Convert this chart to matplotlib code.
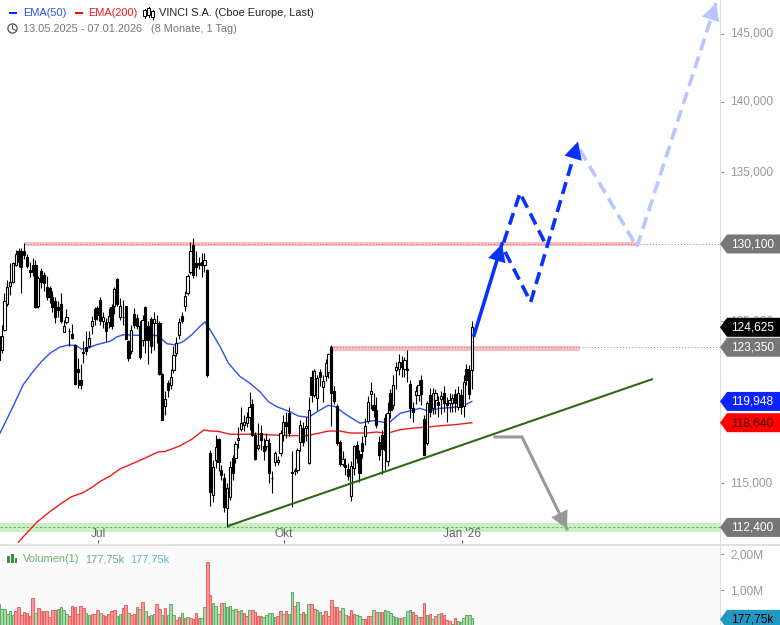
#coding=utf-8

import matplotlib
matplotlib.use('Agg')
import matplotlib.pyplot as plt
from matplotlib.patches import Polygon, Circle, Rectangle
from matplotlib.lines import Line2D
from matplotlib.ticker import FixedLocator, FuncFormatter, NullLocator
from matplotlib.transforms import Affine2D

plt.rcParams['font.family'] = ['Liberation Sans', 'DejaVu Sans']

# candles: open, high, low, close
opens = [124.05,123.15,124.47,126.1,127.3,127.6,128.7,129.66,129.6,129.6,129.25,128.37,128.7,128.7,125.97,128.32,128.03,127.23,127.16,126.62,
126.3,125.93,126.14,124.3,124.95,124.4,124.22,123.51,122.0,121.3,123.05,123.36,123.4,124.68,125.8,125.86,126.4,125.0,124.95,124.95,
125.93,126.0,127.75,125.28,125.3,126.0,123.73,123.08,125.5,125.2,124.73,123.83,125.93,124.68,125.15,124.9,124.92,124.9,121.67,119.66,
121.1,121.0,121.93,123.0,124.1,125.37,126.0,126.88,128.26,130.03,128.85,128.85,128.92,128.7,128.37,116.77,114.3,116.38,117.63,115.78,
115.29,113.52,114.2,116.48,116.48,117.56,118.25,118.51,118.65,119.01,119.79,117.91,117.09,118.01,117.23,117.23,117.39,115.32,116.23,116.23,
116.79,117.91,118.71,119.25,115.65,115.7,115.8,117.49,118.31,118.33,116.19,121.49,120.34,120.14,121.76,120.86,121.53,121.8,123.37,120.59,
119.67,117.49,116.15,116.09,115.83,114.22,115.89,117.29,116.75,117.39,117.85,118.77,120.4,119.73,119.45,117.49,117.91,118.91,116.29,120.49,
119.73,121.9,121.95,122.42,122.0,121.95,121.03,119.52,120.34,120.34,121.28,118.85,117.39,120.34,119.52,120.03,119.89,120.07,120.49,119.87,
119.83,119.83,120.4,119.63,120.34,119.67,122.0,121.9,121.9]
highs = [124.3,124.8,126.85,127.71,128.8,128.9,129.7,129.8,129.8,130.15,129.45,128.9,129.15,129.0,128.0,128.5,128.25,127.95,127.3,126.95,
126.6,126.3,126.85,125.1,125.8,124.57,124.85,123.55,122.65,122.3,123.73,124.36,124.36,125.37,125.93,126.0,126.6,125.6,125.2,125.86,
126.1,127.25,127.85,126.5,126.4,126.0,123.8,124.75,125.9,125.5,125.0,125.4,126.0,125.0,125.3,125.6,125.4,125.0,121.7,120.6,
121.3,122.0,123.4,124.0,125.2,125.6,127.0,128.1,130.2,130.5,129.6,129.2,129.5,129.5,128.4,117.01,116.4,117.89,117.7,116.1,
115.6,115.0,116.3,116.7,117.5,118.4,119.58,119.11,119.3,120.55,120.1,118.1,118.61,118.51,117.7,118.0,117.7,115.7,116.9,116.6,
118.2,119.1,119.3,119.6,116.89,115.9,117.1,118.8,118.7,119.0,120.24,121.9,122.0,121.6,122.0,121.6,122.6,123.0,123.5,120.9,
119.8,117.6,116.9,116.5,116.2,116.3,117.3,117.5,117.0,117.8,118.9,120.3,121.18,120.5,120.2,117.8,118.2,119.2,119.9,120.7,
121.6,122.4,122.9,122.8,122.75,123.16,121.3,119.9,120.9,121.3,121.6,119.1,120.0,120.8,120.8,120.7,120.3,120.6,120.9,120.2,
120.5,120.4,120.7,120.9,120.7,121.6,122.3,122.2,125.0]
lows = [122.5,123.0,124.37,126.0,126.73,127.5,128.6,128.55,126.85,129.1,128.5,127.9,128.0,125.9,125.9,127.2,126.95,126.4,126.2,125.6,
124.93,125.28,124.9,124.3,124.85,123.4,123.9,121.0,120.8,120.73,122.34,122.87,123.3,124.2,124.8,125.1,124.8,124.6,123.76,124.6,
124.5,125.5,126.0,125.1,124.8,123.85,122.45,122.9,124.6,124.5,122.6,123.4,123.0,122.3,123.0,123.2,123.6,121.6,118.8,119.1,
120.2,120.7,121.7,122.8,123.9,124.9,125.7,126.7,128.1,127.85,128.0,128.4,127.9,128.2,121.5,113.62,113.9,115.9,115.7,115.2,
113.3,112.45,114.0,115.2,116.2,117.1,118.11,118.11,118.4,118.21,117.8,116.4,117.0,117.0,116.4,117.0,115.0,114.42,116.0,116.1,
116.6,117.5,117.7,117.8,113.6,115.5,115.6,116.9,117.2,117.5,116.15,119.9,120.2,119.4,120.9,119.9,121.2,121.4,118.41,119.8,
117.3,116.0,116.0,115.5,115.2,113.93,115.5,116.2,115.04,116.5,117.29,118.6,119.5,119.0,118.3,116.4,115.55,115.8,116.0,118.9,
119.5,120.7,121.6,121.5,121.5,121.18,118.9,118.7,119.8,120.0,119.7,116.65,117.3,119.0,119.2,119.2,119.0,119.2,119.3,118.7,
119.3,119.3,119.3,119.4,119.2,119.0,121.0,120.1,120.7]
closes = [122.55,124.08,126.3,127.27,127.6,128.81,129.42,128.92,128.55,129.37,128.63,128.2,128.26,125.93,127.82,127.6,127.5,126.62,126.62,125.93,
125.28,125.71,125.06,124.73,125.28,124.36,123.92,121.05,121.76,121.0,123.0,123.08,123.94,125.0,125.15,125.43,125.0,125.28,124.36,125.33,
124.73,127.1,126.14,126.0,125.28,123.87,122.66,124.43,124.8,124.73,122.76,125.12,123.8,123.83,123.4,125.15,124.88,121.67,118.8,120.07,
120.68,121.5,122.87,123.65,124.94,125.0,126.66,127.97,129.6,128.04,128.59,128.7,128.7,129.03,121.6,114.5,115.98,117.14,116.28,115.49,
113.58,114.7,115.98,115.59,117.34,117.69,118.65,118.71,119.0,119.63,117.91,116.43,117.29,117.61,116.95,117.59,115.6,115.28,116.79,116.39,
118.01,118.71,118.41,118.01,115.6,115.8,117.0,118.51,117.49,118.41,119.45,120.34,121.87,121.38,121.49,121.24,122.32,122.9,120.45,119.99,
117.43,116.15,116.43,115.95,115.45,115.99,117.23,116.49,115.6,116.95,118.45,119.93,120.6,119.45,118.51,116.69,117.03,117.0,119.21,119.42,
120.97,122.07,122.42,122.11,122.56,121.9,119.52,119.31,120.61,120.97,120.4,116.69,119.83,119.31,120.49,120.49,119.73,120.28,119.83,119.73,
120.03,120.14,119.83,120.49,119.63,121.18,121.28,120.4,124.625]

volumes = [.60,.46,.46,.33,.41,.30,.41,.51,.30,.39,.35,.27,.77,.35,.49,.41,.41,.41,.23,.44,
.44,.47,.51,.44,.33,.27,.55,.51,.33,.55,.49,.36,.30,.33,.33,.44,.35,.30,.27,.33,
.42,.44,.27,.33,.49,.58,.36,.30,.33,.51,.47,.65,.41,.27,.30,.33,.61,.47,.30,.49,
.30,.60,.30,.16,.25,.35,.21,.25,.21,.18,.35,.22,.21,.51,1.79,.85,.63,.55,.33,.63,
.63,.53,.55,.44,.46,.42,
.44,.35,.27,.44,.44,.37,.27,.27,.23,.30,.35,.35,.23,.27,.41,.33,.41,.33,.93,.55,
.65,.33,.37,.33,.60,.60,.46,.43,.37,.30,.41,.27,.71,.51,.51,.41,.49,.30,.27,.43,
.33,.30,.27,.18,.18,.27,.27,.43,.37,.37,.37,.43,.41,.35,.27,.23,.21,.21,.23,.41,
.43,.37,.30,.23,.23,.63,.30,.33,.19,.27,.33,.35,.30,.16,.13,.04,.21,.13,.09,.21,
.30,.30,.21]
vol_side = ("ggggggrrrr" "rrrgrrrrrr" "rgggg" "rrrrr" "rgg" "rrrgrrr" "rrggrrgrrr" "grgrggrrgr"
            "ggg" "rrgrgrr" "rrgg" "rr" "gggr" "ggg"
            "ggrgrrgrrr" "rgggggrrgr" "ggrggrggrr" "ggrrrrrrrg" "grrrgggrrr" "grgrggggg" "g" "r" "gggrr" "grrgrgrgrr" "rrgr")

ema50_x = [0.4,2.8,5.1,8.7,12.2,15.2,18.2,21.7,24.7,27.4,29.4,31.4,34.7,39.5,41.8,44.2,48.9,52.5,56.6,59.6,62.5,65.5,68.5,71.4,73.2,75,78.5,81.5,85.6,
89.2,92.7,95.7,98.6,103.4,106.3,109.9,113.4,117,119.3,123.5,128.2,132.9,138.3,142.4,147.1,149.5,152.5,156.6,161.3,164.9,167.9]
ema50_y = [118.0,118.84,119.66,121.0,121.83,122.45,122.98,123.36,123.49,123.46,123.23,123.29,123.51,123.73,124.0,124.15,124.11,124.13,124.09,123.58,123.5,123.72,124.15,124.69,124.97,124.47,123.4,122.34,121.5,
121.07,120.55,119.93,119.63,119.31,119.05,118.97,119.36,119.71,119.63,119.11,118.61,118.77,118.61,119.21,119.42,119.52,119.36,119.52,119.58,119.67,119.948]
ema200_x = [6.9,9.9,13.4,18.2,22.3,25.9,30,33.5,35.9,39.5,43,47.7,52.5,56.6,59,64.3,68.5,72.8,75,77.9,82.1,85.6,
91.5,97.4,103.4,109.3,112.8,117,121.1,124.7,130.6,134.1,137.7,142.4,147.1,151.9,156.6,162.5,167.9]
ema200_y = [111.55,112.07,112.69,113.33,113.82,114.2,114.44,114.8,115.09,115.42,115.84,116.18,116.54,116.87,116.89,117.23,117.63,118.2,118.13,118.11,117.93,117.93,
117.95,117.89,117.85,117.85,117.97,118.13,118.13,118.01,118.01,118.07,117.99,118.21,118.31,118.37,118.45,118.53,118.64]

# drawings on the chart: index position / price
trend_x = [81.3, 232.2]
trend_y = [112.48, 121.35]
solid_x = [168.7, 178.6]
solid_y = [124.13, 130.1]
dash1_x = [179.7, 188.8, 205.6]
dash1_y = [129.57, 126.26, 137.16]
dash2_x = [179.2, 185.0, 194.6]
dash2_y = [130.2, 133.57, 129.9]
light_x = [206.3, 226.5, 254.6]
light_y = [136.57, 129.9, 147.33]
grey_x = [176.1, 185.7, 201.7]
grey_y = [117.77, 117.77, 112.31]

xtick_pos = [35.2, 101.2, 164.4]
xtick_labels = ['Jul', 'Okt', "Jan '26"]
price_ticks = [115, 125, 135, 140, 145]
vol_ticks = [1, 2]

W, H = 780, 625
fig = plt.figure(figsize=(W/100, H/100), dpi=100, facecolor='white')
px = Affine2D().scale(1/W, -1/H).translate(0, 1) + fig.transFigure

ax = fig.add_axes([0, (H-543)/H, 720/W, 543/H])
vax = fig.add_axes([0, 0, 720/W, (H-546)/H], facecolor='#fafafa')
x0, x1 = 0.41, 256.0

ax.set_yscale('log')
ax.set_xlim(x0, x1)
ax.set_ylim(111.5, 147.55)
ax.yaxis.set_major_locator(FixedLocator(price_ticks))
ax.yaxis.set_minor_locator(NullLocator())
ax.yaxis.set_major_formatter(FuncFormatter(lambda v, p: '%d,000' % v))
ax.yaxis.tick_right()
ax.tick_params(axis='y', which='major', length=3, width=0.8, color='#999999', labelcolor='#999999', labelsize=8.6, pad=4.5)
ax.set_xticks(xtick_pos)
ax.set_xticklabels(xtick_labels)
ax.tick_params(axis='x', direction='in', length=2.5, width=0.8, color='#555555', labelcolor='#666666', labelsize=8.6, pad=-10.6)
for s in ['top', 'left', 'bottom']:
    ax.spines[s].set_visible(False)
ax.spines['right'].set_color('#dddddd')
for t in ax.get_yticklabels():
    t.set_va('center')

# zones
ax.fill_between([8.9, 226.5], 129.97, 130.2, color='#ffbcbc', lw=0, zorder=1)
ax.fill_between([117.6, 206.3], 123.08, 123.43, color='#ffbcbc', lw=0, zorder=1)
ax.fill_between([x0, x1], 112.15, 112.64, color='#c9efc5', lw=0, zorder=1)
ax.plot([8.9, x1], [130.1, 130.1], color='#888888', lw=0.7, ls=(0, (1, 2.2)), zorder=1.5)
ax.plot([117.6, x1], [123.35, 123.35], color='#888888', lw=0.7, ls=(0, (1, 2.2)), zorder=1.5)
ax.plot([x0, x1], [112.4, 112.4], color='#6fae6f', lw=0.7, ls=(0, (2.5, 2)), zorder=1.5)

ax.plot(ema50_x, ema50_y, color='#2a50f0', lw=1.0, zorder=2)
ax.plot(ema200_x, ema200_y, color='#f01a1a', lw=1.0, zorder=2)

# candles
xs = list(range(len(closes)))
ax.vlines(xs, lows, highs, color='black', lw=0.8, zorder=3)
bottoms = [min(o, c) for o, c in zip(opens, closes)]
heights = [abs(o-c) for o, c in zip(opens, closes)]
colors = ['white' if c > o else 'black' for o, c in zip(opens, closes)]
ax.bar(xs, heights, bottom=bottoms, width=0.78, color=colors, edgecolor='black', lw=0.8, zorder=3.5)

# arrows
def head(xa, ya, col):
    ax.annotate('', xy=(xa[-1], ya[-1]), xytext=(xa[-2], ya[-2]), zorder=6,
                arrowprops=dict(arrowstyle='-|>,head_length=12.5,head_width=6.5', mutation_scale=1,
                                lw=0, color=col, shrinkA=0, shrinkB=0))

dash = (0, (3.4, 1.8))
ax.plot(trend_x, trend_y, color='#2f6a1c', lw=1.5, zorder=4, solid_capstyle='butt')
ax.plot(grey_x, grey_y, color='#999999', lw=2.2, zorder=4, solid_joinstyle='miter')
head(grey_x, grey_y, '#999999')
ax.plot(light_x, light_y, color='#b8c5ff', lw=2.6, ls=dash, zorder=4)
head(light_x, light_y, '#b8c5ff')
ax.plot(dash1_x, dash1_y, color='#0a32ff', lw=2.6, ls=dash, zorder=5)
head(dash1_x, dash1_y, '#0a32ff')
ax.plot(dash2_x, dash2_y, color='#0a32ff', lw=2.6, ls=dash, zorder=5)
ax.plot(solid_x, solid_y, color='#0a32ff', lw=2.6, zorder=5)
head(solid_x, solid_y, '#0a32ff')

# volume
vax.set_xlim(x0, x1)
vax.set_ylim(0.02, 2.23)
vax.bar(xs, volumes, width=0.9,
        color=['#a6d8a8' if s == 'g' else '#f79a9a' for s in vol_side],
        edgecolor=['#62ab68' if s == 'g' else '#ee5f5f' for s in vol_side], lw=0.7)
vax.set_xticks([])
vax.yaxis.tick_right()
vax.set_yticks(vol_ticks)
vax.set_yticklabels(['1,00M', '2,00M'])
vax.tick_params(axis='y', length=3, width=0.8, color='#999999', labelcolor='#999999', labelsize=8.6, pad=4.5)
for s in ['top', 'left', 'bottom']:
    vax.spines[s].set_visible(False)
vax.spines['right'].set_color('#dddddd')

fig.add_artist(Rectangle((0, 543.5), 780, 2.8, transform=px, fc='#e0e0e0', ec='none'))

# price tags
def tag(axis, val, txt, fc, tc):
    yp = H - axis.transData.transform((0, val))[1]
    fig.add_artist(Polygon([(720, yp), (727, yp-9.5), (780, yp-9.5), (780, yp+9.5), (727, yp+9.5)],
                           transform=px, fc=fc, ec='none', zorder=5))
    fig.text(731/W, 1-(yp+0.5)/H, txt, color=tc, fontsize=8.6, va='center', ha='left', zorder=6)

tag(ax, 130.1, '130,100', '#777777', 'white')
tag(ax, 124.625, '124,625', 'black', 'white')
tag(ax, 123.35, '123,350', '#777777', 'white')
tag(ax, 119.948, '119,948', '#0a24ff', 'white')
tag(ax, 118.64, '118,640', '#ff0000', '#400000')
tag(ax, 112.4, '112,400', '#777777', 'white')
tag(vax, 0.17775, '177,75k', '#2299c4', 'black')

# legend
def label(x, y, txt, col, size=7.9, **kw):
    fig.text(x/W, 1-y/H, txt, color=col, fontsize=size, va='center', ha='left', **kw)

fig.add_artist(Rectangle((9, 11.5), 8, 2.5, transform=px, fc='#0a24ff', ec='none'))
label(23, 12.8, 'EMA(50)', '#2a50f0')
fig.add_artist(Rectangle((75, 11.5), 8, 2.5, transform=px, fc='#ff0000', ec='none'))
label(88, 12.8, 'EMA(200)', '#f01a1a')
for xi, top, bot in [(144.5, 10, 16), (148.5, 8, 15), (152.5, 11, 17)]:
    fig.add_artist(Line2D([xi, xi], [top-1.5, bot+1.5], transform=px, color='black', lw=0.7))
    fig.add_artist(Rectangle((xi-1.2, top), 2.4, bot-top, transform=px, fc='white', ec='black', lw=0.7, zorder=3))
label(159, 12.8, 'VINCI S.A. (Cboe Europe, Last)', '#222222')

fig.add_artist(Circle((12.5, 28.5), 4.6, transform=px, fc='none', ec='#555555', lw=0.9))
fig.add_artist(Line2D([12.5, 12.5, 15.5], [25.5, 28.8, 30.2], transform=px, color='#555555', lw=0.8))
label(23, 28.5, '13.05.2025 - 07.01.2026', '#777777')
label(151, 28.5, '(8 Monate, 1 Tag)', '#777777')

fig.add_artist(Rectangle((5, 551), 170, 16, transform=px, fc='white', ec='none', zorder=3))
for xi, top in [(7, 556), (10.8, 553.5), (14.6, 558)]:
    fig.add_artist(Rectangle((xi, top), 2.8, 563-top, transform=px, fc='#3a8f3f', ec='none', zorder=4))
label(23, 559, 'Volumen(1)', '#6aaa70', zorder=4)
label(85, 559, '177,75k', '#6aaa70', zorder=4)
label(130, 559, '177,75k', '#5ab4d6', zorder=4)

fig.savefig('out.png', dpi=100)
